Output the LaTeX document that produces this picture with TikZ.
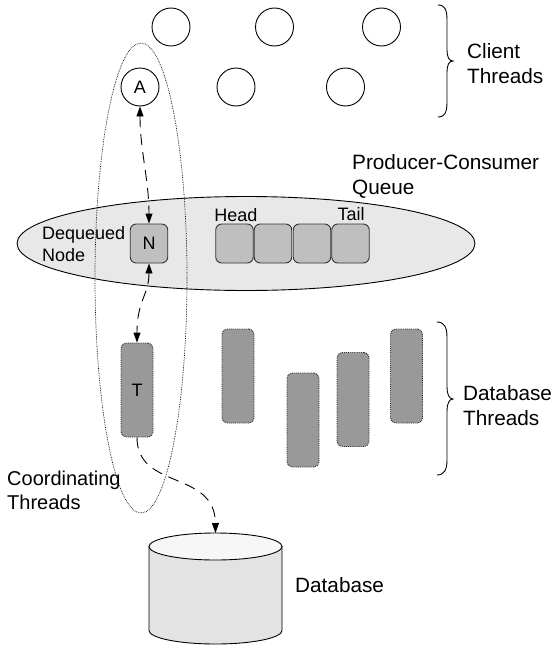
\documentclass[tikz,border=0pt]{standalone}
\usepackage{fontspec}
\setmainfont{Liberation Sans}
\usetikzlibrary{shapes.geometric,arrows.meta}
\definecolor{qfill}{HTML}{E8E8E8}
\definecolor{boxfill}{HTML}{BFBFBF}
\definecolor{thrfill}{HTML}{999999}
\definecolor{dbbody}{HTML}{E3E3E3}
\definecolor{dbtopc}{HTML}{F7F7F7}
\begin{document}
\begin{tikzpicture}[x=1pt,y=-1pt,
  client/.style={circle,draw,line width=0.9pt,minimum size=38pt,inner sep=0pt,font=\fontsize{18}{20}\selectfont},
  qbox/.style={rectangle,rounded corners=6pt,draw=black!80,line width=0.9pt,fill=boxfill,minimum width=37.5pt,minimum height=39pt,inner sep=0pt,font=\fontsize{18}{20}\selectfont},
  thread/.style={rectangle,rounded corners=5pt,draw=black!85,densely dotted,line width=0.9pt,fill=thrfill,minimum width=32pt,minimum height=94pt,inner sep=0pt,font=\fontsize{18}{20}\selectfont},
  biglbl/.style={font=\fontsize{20.75}{25}\selectfont,align=left,anchor=west,inner sep=0pt},
  smalllbl/.style={font=\fontsize{18}{21.7}\selectfont,align=left,inner sep=0pt},
  link/.style={line width=0.9pt,dash pattern=on 11pt off 7pt},
  tipa/.style={-{Triangle[length=10pt,width=7pt]}},
  tipb/.style={{Triangle[length=10pt,width=7pt]}-{Triangle[length=10pt,width=7pt]}},
  brc/.style={line width=0.9pt},
]
\useasboundingbox (0,0) rectangle (554,645);

% queue ellipse
\node[ellipse,draw,line width=0.9pt,fill=qfill,minimum width=458pt,minimum height=94pt,inner sep=0pt] (queue) at (246,243.5) {};

% coordinating threads dotted ellipse
\node[ellipse,draw,densely dotted,line width=0.7pt,minimum width=92pt,minimum height=470pt,inner sep=0pt] (coord) at (141,278) {};

% client threads
\node[client] (c1) at (171,27) {};
\node[client] (c2) at (274.5,27) {};
\node[client] (c3) at (381.5,27) {};
\node[client] (A) at (140,87) {A};
\node[client] (c5) at (236,87) {};
\node[client] (c6) at (345.5,87) {};

% queue boxes
\node[qbox] (N) at (149,243.5) {N};
\node[qbox] (q1) at (234.5,243.5) {};
\node[qbox] (q2) at (273,243.5) {};
\node[qbox] (q3) at (312,243.5) {};
\node[qbox] (q4) at (350.5,243.5) {};

\node[smalllbl,anchor=base] (head) at (236,221) {Head};
\node[smalllbl,anchor=base] (tail) at (351,220) {Tail};
\node[smalllbl,anchor=west] (deq) at (42,244) {Dequeued\\Node};
\node[biglbl] (pcq) at (352,176) {Producer-Consumer\\Queue};

% database threads
\node[thread] (T) at (137,390) {T};
\node[thread] (d1) at (238,376) {};
\node[thread] (d2) at (303,420) {};
\node[thread] (d3) at (353,399.5) {};
\node[thread] (d4) at (406.5,376) {};

% braces
\draw[brc] (438,5) .. controls (445,5) and (447,10) .. (447,20) -- (447,50) .. controls (447,57) and (449,61) .. (453,61) .. controls (449,61) and (447,65) .. (447,72) -- (447,102) .. controls (447,112) and (445,117) .. (438,117);
\draw[brc] (437,322) .. controls (444,322) and (447,327) .. (447,337) -- (447,387) .. controls (447,394) and (449,399) .. (453,399) .. controls (449,399) and (447,404) .. (447,411) -- (447,460) .. controls (447,470) and (444,475) .. (437,475);

\node[biglbl] (clt) at (467,63.3) {Client\\Threads};
\node[biglbl] (dbt) at (463,406) {Database\\Threads};
\node[biglbl,font=\fontsize{20}{24}\selectfont] (crd) at (7,490) {Coordinating\\Threads};

% database cylinder
\filldraw[line width=0.9pt,fill=dbbody] (149,546.5) -- (149,630.5) arc[start angle=180,end angle=360,x radius=66.5pt,y radius=13.5pt] -- (282,546.5) -- cycle;
\filldraw[line width=0.9pt,fill=dbtopc] (215.5,546.5) ellipse[x radius=66.5pt,y radius=13.5pt];
\coordinate (dbtop) at (215.5,533);
\node[biglbl] (dbl) at (295,585) {Database};

% connectors
\draw[link,tipb] (A.south) .. controls (140,150) and (149,180) .. (N.north);
\draw[link,tipb] (N.south) .. controls (149,295) and (137,300) .. (T.north);
\draw[link,tipa] (T.south) .. controls (137,490) and (215,470) .. (dbtop);
\end{tikzpicture}
\end{document}
